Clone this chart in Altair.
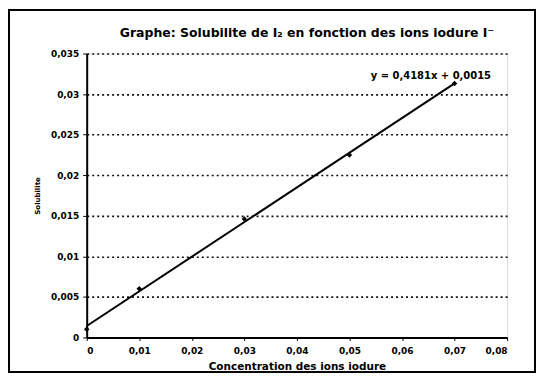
import altair as alt
import pandas as pd

# Data
concentration = [0.0, 0.01, 0.03, 0.05, 0.07]
solubilite = [0.0010, 0.0060, 0.0146, 0.0225, 0.0313]
y_ticks = [0, 0.005, 0.01, 0.015, 0.02, 0.025, 0.03, 0.035]
x_ticks = [0, 0.01, 0.02, 0.03, 0.04, 0.05, 0.06, 0.07, 0.08]
equation = ["y = 0,4181x + 0,0015"]
eq_x = [0.0655]
eq_y = [0.0322]
title_text = ["Graphe: Solubilite de I₂ en fonction des ions iodure I⁻"]

W, H = 422, 285
FONT = "DejaVu Sans"

df = pd.DataFrame({"x": concentration, "y": solubilite})
eq_df = pd.DataFrame({"label": equation, "x": eq_x, "y": eq_y})
title_df = pd.DataFrame({"label": title_text})

comma = "replace(format(datum.value, ''), '.', ',')"

x_enc = alt.X(
    "x:Q",
    scale=alt.Scale(domain=[0, 0.08], nice=False),
    axis=alt.Axis(
        values=x_ticks, grid=False, labelExpr=comma,
        title="Concentration des ions iodure",
        labelFont=FONT, labelFontWeight="bold", labelFontSize=9,
        titleFont=FONT, titleFontWeight="bold", titleFontSize=10.5,
        titlePadding=6, labelPadding=6, tickSize=3,
        domainColor="black", domainWidth=2, tickColor="black",
        labelColor="black", titleColor="black",
    ),
)
y_enc = alt.Y(
    "y:Q",
    scale=alt.Scale(domain=[0, 0.035], nice=False),
    axis=alt.Axis(
        values=y_ticks, grid=True, labelExpr=comma,
        title="Solubilite",
        labelFont=FONT, labelFontWeight="bold", labelFontSize=9,
        titleFont=FONT, titleFontWeight="bold", titleFontSize=7,
        titlePadding=10, labelPadding=4, tickSize=4,
        gridDash=[2, 3], gridColor="#111111", gridWidth=1.6,
        domainColor="black", domainWidth=2, tickColor="black",
        labelColor="black", titleColor="black",
    ),
)

base = alt.Chart(df)

points = base.mark_point(
    shape="diamond", filled=True, color="black", size=30, opacity=1
).encode(x=x_enc, y=y_enc)

trend = base.transform_regression("x", "y").mark_line(
    color="black", strokeWidth=2
).encode(x="x:Q", y="y:Q")

eq = alt.Chart(eq_df).mark_text(
    font=FONT, fontWeight="bold", fontSize=10, color="black", align="center"
).encode(x="x:Q", y="y:Q", text="label:N")

title = alt.Chart(title_df).mark_text(
    font=FONT, fontWeight="bold", fontSize=12.5, color="black",
    align="center", baseline="middle",
).encode(x=alt.value(W / 2 + 10), y=alt.value(-21), text="label:N")

frame = alt.Chart(df).mark_rect(
    filled=False, stroke="black", strokeWidth=1.5
).encode(
    x=alt.value(-78), x2=alt.value(W + 28),
    y=alt.value(-44), y2=alt.value(H + 35),
)

chart = alt.layer(frame, points, trend, eq, title).properties(
    width=W,
    height=H,
    padding=0,
).configure_view(
    stroke="black", strokeWidth=1.5
).configure(background="white")

chart.save("out.html", embed_options={"renderer": "svg", "actions": False})
